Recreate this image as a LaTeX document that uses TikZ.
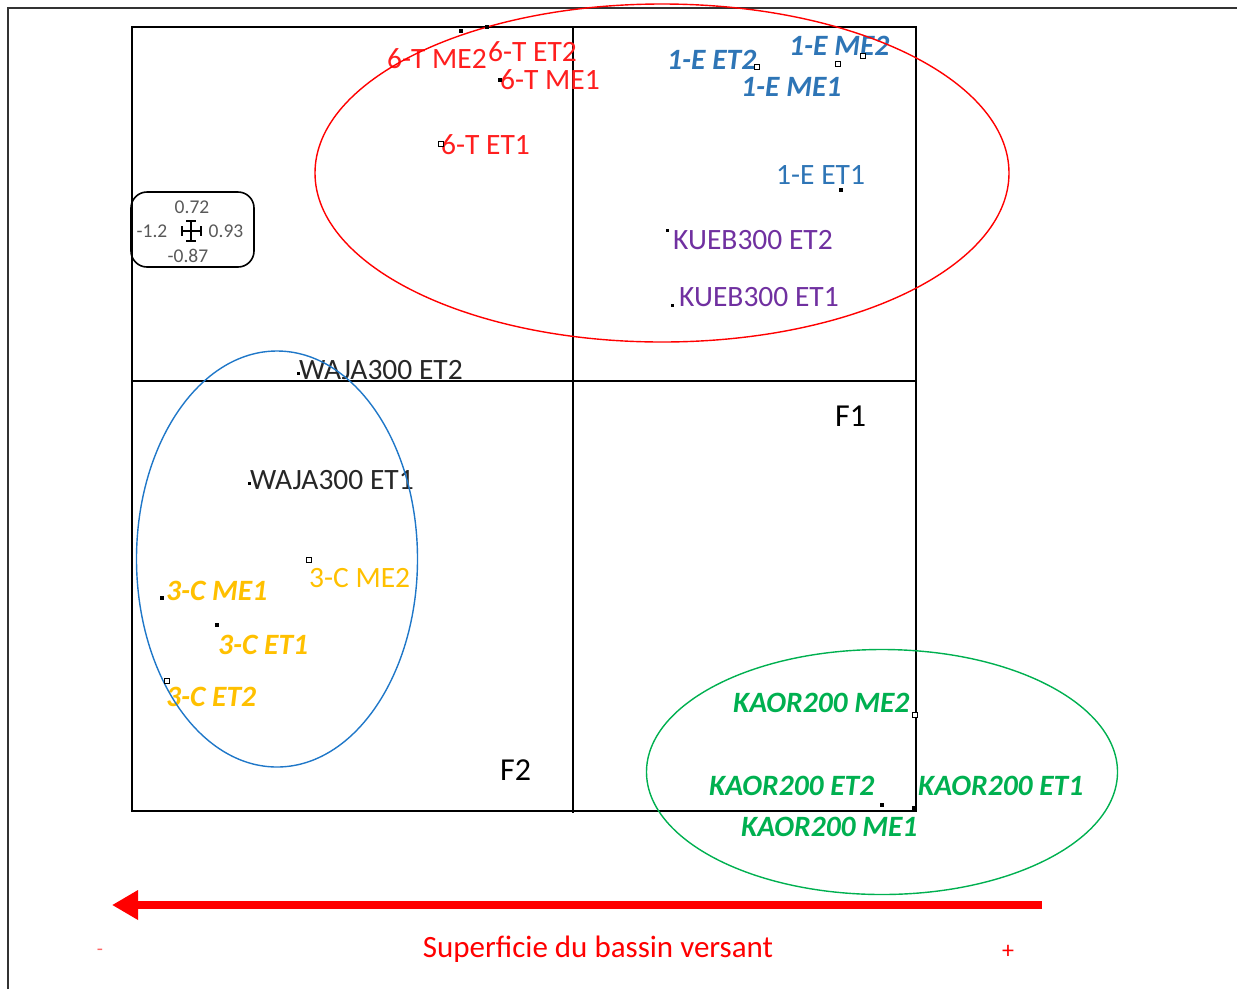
\documentclass[tikz,border=0pt]{standalone}
\usepackage{fontspec}
\setmainfont{Carlito}
\usetikzlibrary{shapes.geometric,arrows.meta}
\definecolor{tred}{RGB}{255,30,30}
\definecolor{tblue}{RGB}{46,117,182}
\definecolor{tpurple}{RGB}{112,48,160}
\definecolor{torange}{RGB}{255,192,0}
\definecolor{tgreen}{RGB}{0,176,80}
\definecolor{eblue}{RGB}{31,119,200}
\definecolor{tgray}{RGB}{89,89,89}
\begin{document}
\begin{tikzpicture}[x=1pt,y=-1pt,
  lbl/.style={anchor=west,inner sep=0pt,font=\fontsize{29.5}{30}\selectfont},
  bi/.style={anchor=west,inner sep=0pt,font=\fontsize{29.5}{30}\selectfont\bfseries\itshape},
  dot/.style={rectangle,fill=black,inner sep=0pt,minimum size=3.5pt},
  sq/.style={rectangle,draw=black,fill=white,inner sep=0pt,minimum size=5pt,line width=1.2pt},
  leg/.style={inner sep=0pt,text=tgray,font=\fontsize{19.5}{20}\selectfont},
  grp/.style={ellipse,inner sep=0pt,line width=1.4pt}]
\useasboundingbox (0,0) rectangle (1237,989);
% outer frame
\draw[line width=2pt,black!80] (8,989) -- (8,8) -- (1237,8);
% plot box and axes
\draw[line width=1.6pt] (132,27) rectangle (916,811);
\draw[line width=1.6pt] (132,381) -- (916,381);
\draw[line width=1.6pt] (573,27) -- (573,813);
\node[anchor=west,inner sep=0pt,font=\fontsize{32}{32}\selectfont] (F1) at (835,416) {F1};
\node[anchor=west,inner sep=0pt,font=\fontsize{32}{32}\selectfont] (F2) at (500,770) {F2};
% legend box
\draw[line width=1.6pt,rounded corners=16pt] (131,192) rectangle (254,267);
\node[leg] (l1) at (192,207) {0.72};
\node[leg] (l2) at (152,231) {-1.2};
\node[leg] (l3) at (226,231) {0.93};
\node[leg] (l4) at (188,256) {-0.87};
\draw[line width=1.2pt] (182,231) -- (201,231) (191,221) -- (191,241)
  (182,226) -- (182,236) (201,226) -- (201,236) (186,221) -- (196,221) (186,241) -- (196,241);
% red group labels
\node[lbl,text=tred] (tme2) at (387,59) {6-T ME2};
\node[lbl,text=tred] (tet2) at (488,52) {6-T ET2};
\node[lbl,text=tred] (tme1) at (500,80) {6-T ME1};
\node[lbl,text=tred] (tet1) at (441,145) {6-T ET1};
\node[bi,text=tblue] (eet2) at (667,60) {1-E ET2};
\node[bi,text=tblue] (eme2) at (789,46) {1-E ME2};
\node[bi,text=tblue] (eme1) at (741,87) {1-E ME1};
\node[lbl,text=tblue] (eet1) at (776,175) {1-E ET1};
\node[lbl,text=tpurple] (ket2) at (673,240) {KUEB300 ET2};
\node[lbl,text=tpurple] (ket1) at (679,297) {KUEB300 ET1};
% black labels
\node[lbl,text=black!85] (wet2) at (299,370) {WAJA300 ET2};
\node[lbl,text=black!85] (wet1) at (250,480) {WAJA300 ET1};
% orange labels
\node[lbl,text=torange] (cme2) at (309,578) {3-C ME2};
\node[bi,text=torange] (cme1) at (166,591) {3-C ME1};
\node[bi,text=torange] (cet1) at (218,645) {3-C ET1};
\node[bi,text=torange] (cet2) at (166,697) {3-C ET2};
% green labels
\node[bi,text=tgreen] (ame2) at (733,703) {KAOR200 ME2};
\node[bi,text=tgreen] (aet2) at (709,786) {KAOR200 ET2};
\node[bi,text=tgreen] (aet1) at (918,786) {KAOR200 ET1};
\node[bi,text=tgreen] (ame1) at (741,827) {KAOR200 ME1};
% group ellipses
\node[grp,draw=red,minimum width=694pt,minimum height=338pt] (gred) at (662,173) {};
\node[grp,draw=eblue,minimum width=281pt,minimum height=416pt] (gblue) at (277,559) {};
\node[grp,draw=tgreen,minimum width=471pt,minimum height=245pt] (ggreen) at (882,772) {};
% point markers
\node[dot] (p1) at (461,31) {};
\node[dot] (p2) at (487,27) {};
\node[dot] (p3) at (500,80) {};
\node[sq] (p4) at (441,144) {};
\node[sq] (p5) at (757,67) {};
\node[sq] (p6) at (838,64) {};
\node[sq] (p7) at (863,56) {};
\node[dot] (p8) at (841,190) {};
\node[dot,minimum size=3pt] (p9) at (667,230) {};
\node[dot,minimum size=3pt] (p10) at (672,305) {};
\node[dot,minimum size=3pt] (p11) at (298,373) {};
\node[dot,minimum size=3pt] (p12) at (249,483) {};
\node[sq] (p13) at (309,560) {};
\node[dot] (p14) at (162,598) {};
\node[dot] (p15) at (217,625) {};
\node[sq] (p16) at (167,681) {};
\node[sq] (p17) at (915,715) {};
\node[dot] (p18) at (882,805) {};
\node[dot] (p19) at (914,808) {};
% arrow and caption
\coordinate (aS) at (1042,905);
\coordinate (aE) at (112,905);
\draw[red,line width=8pt,-{Triangle[length=26pt,width=28pt]}] (aS) -- (aE);
\node[inner sep=0pt,text=red,font=\fontsize{31}{31}\selectfont] (cap) at (598,949) {Superficie du bassin versant};
\node[inner sep=0pt,text=red!60,font=\fontsize{20}{20}\selectfont] (minus) at (100,952) {-};
\node[inner sep=0pt,text=red,font=\fontsize{24}{24}\selectfont] (plus) at (1008,952) {+};
\end{tikzpicture}
\end{document}
